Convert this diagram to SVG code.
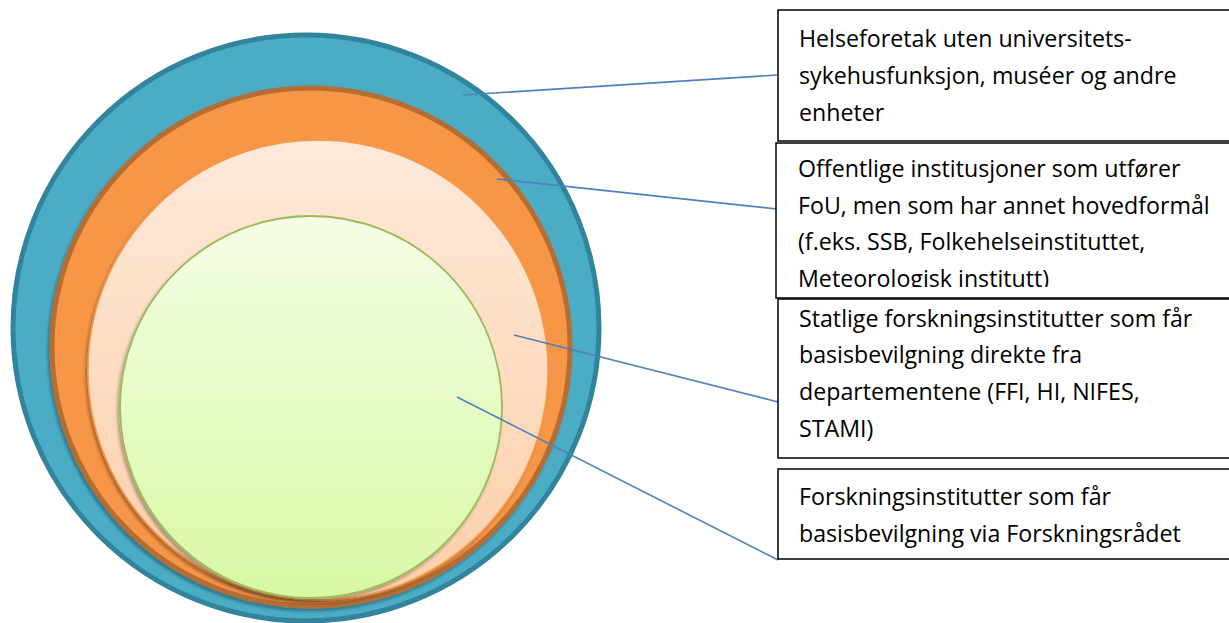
<svg xmlns="http://www.w3.org/2000/svg" width="1229" height="623" viewBox="0 0 1229 623">
<style>
.lbl{font-family:"Open Sans","Liberation Sans",sans-serif;font-size:23.2px;fill:#000}
.box{fill:#fff;stroke:#000;stroke-width:1.5}
.con{stroke:#4F81BD;stroke-width:1.6;fill:none}
</style>
<defs>
<linearGradient id="gPeach" x1="0" y1="0" x2="0" y2="1">
<stop offset="0" stop-color="#FEE9DA"/>
<stop offset="1" stop-color="#FCCFA8"/>
</linearGradient>
<linearGradient id="gGreen" x1="0" y1="0" x2="0" y2="1">
<stop offset="0" stop-color="#F5FEE6"/>
<stop offset="1" stop-color="#D8F8A4"/>
</linearGradient>
<filter id="sh" x="-10%" y="-10%" width="120%" height="120%">
<feDropShadow dx="-2" dy="3" stdDeviation="1.5" flood-color="#000" flood-opacity="0.3"/>
</filter>
<clipPath id="c2"><rect x="776" y="143" width="460" height="144"/></clipPath>
<clipPath id="c3"><rect x="778" y="299" width="460" height="149"/></clipPath>
</defs>
<g id="circles">
<circle id="c-blue" cx="306" cy="328" r="293" fill="#4BACC6" stroke="#31849B" stroke-width="5"/>
<circle id="c-orange" cx="311" cy="347" r="259" fill="#F79646" stroke="#B66D31" stroke-width="5" filter="url(#sh)"/>
<circle id="c-peach" cx="318" cy="370" r="230" fill="url(#gPeach)" stroke="#F59A4E" stroke-width="1.5" filter="url(#sh)"/>
<circle id="c-green" cx="311" cy="407" r="191" fill="url(#gGreen)" stroke="#9BBB59" stroke-width="1.8" filter="url(#sh)"/>
</g>
<g id="connectors">
<line class="con" x1="463" y1="95" x2="777" y2="75"/>
<line class="con" x1="497" y1="179" x2="777" y2="209"/>
<line class="con" x1="514" y1="335" x2="778" y2="402"/>
<line class="con" x1="457" y1="397" x2="778" y2="560"/>
</g>
<g id="box1">
<rect class="box" x="778" y="10" width="460" height="131"/>
<text class="lbl" x="799" y="47">Helseforetak uten universitets-</text>
<text class="lbl" x="799" y="84">sykehusfunksjon, muséer og andre</text>
<text class="lbl" x="799" y="121">enheter</text>
</g>
<g id="box2">
<rect class="box" x="776" y="143" width="460" height="155"/>
<g clip-path="url(#c2)">
<text class="lbl" x="798" y="177">Offentlige institusjoner som utfører</text>
<text class="lbl" x="798" y="214">FoU, men som har annet hovedformål</text>
<text class="lbl" x="798" y="250">(f.eks. SSB, Folkehelseinstituttet,</text>
<text class="lbl" x="798" y="287">Meteorologisk institutt)</text>
</g>
</g>
<g id="box3">
<rect class="box" x="778" y="299" width="460" height="159"/>
<g clip-path="url(#c3)">
<text class="lbl" x="799" y="327">Statlige forskningsinstitutter som får</text>
<text class="lbl" x="799" y="363">basisbevilgning direkte fra</text>
<text class="lbl" x="799" y="400">departementene (FFI, HI, NIFES,</text>
<text class="lbl" x="799" y="437">STAMI)</text>
</g>
</g>
<g id="box4">
<rect class="box" x="778" y="469" width="460" height="90"/>
<text class="lbl" x="799" y="505">Forskningsinstitutter som får</text>
<text class="lbl" x="799" y="542">basisbevilgning via Forskningsrådet</text>
</g>
</svg>
